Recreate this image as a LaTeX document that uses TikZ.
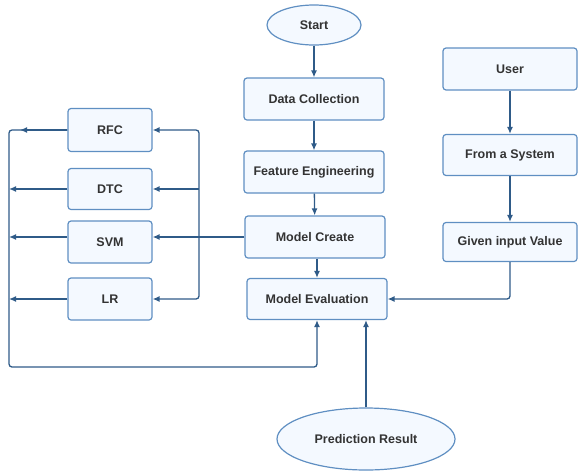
\documentclass[tikz,border=0pt]{standalone}
\usepackage{fontspec}
\setmainfont{Liberation Sans}
\usepackage{xcolor}
\usetikzlibrary{arrows.meta, shapes.geometric}

\definecolor{boxline}{HTML}{5F8FC2}
\definecolor{boxfill}{HTML}{F4F9FF}
\definecolor{linkcol}{HTML}{2F5B88}
\definecolor{txtcol}{HTML}{333333}

\tikzset{
  stepbox/.style={draw=boxline, fill=boxfill, line width=1.2pt, rounded corners=3pt,
    text=txtcol, font=\bfseries\fontsize{12.5}{14}\selectfont, inner sep=0pt},
  oval/.style={ellipse, draw=boxline, fill=boxfill, line width=1.2pt,
    text=txtcol, font=\bfseries\fontsize{12.5}{14}\selectfont, inner sep=0pt},
  link/.style={draw=linkcol, line width=1.3pt, -{Latex[length=7pt,width=6pt]}},
  wire/.style={draw=linkcol, line width=1.3pt, rounded corners=3pt},
}

\begin{document}
\begin{tikzpicture}[x=1pt, y=-1pt]
  \useasboundingbox (0,0) rectangle (578,472);
  % Main column
  \node[oval, minimum width=94pt, minimum height=40pt] (start) at (314,25) {Start};
  \node[stepbox, minimum width=140pt, minimum height=42pt] (dc) at (314,99) {Data Collection};
  \node[stepbox, minimum width=140pt, minimum height=42pt] (fe) at (314,172) {Feature Engineering};
  \node[stepbox, minimum width=140pt, minimum height=42pt] (mc) at (315,237) {Model Create};
  \node[stepbox, minimum width=140pt, minimum height=41pt] (me) at (317,299) {Model Evaluation};
  \node[oval, minimum width=178pt, minimum height=62pt] (pred) at (366,439) {Prediction Result};
  % Right column
  \node[stepbox, minimum width=134pt, minimum height=42pt] (user) at (510,69) {User};
  \node[stepbox, minimum width=134pt, minimum height=41pt] (sys) at (510,155) {From a System};
  \node[stepbox, minimum width=134pt, minimum height=39pt] (given) at (510,242) {Given input Value};
  % Classifiers
  \node[stepbox, minimum width=84pt, minimum height=43pt] (rfc) at (110,130) {RFC};
  \node[stepbox, minimum width=84pt, minimum height=41pt] (dtc) at (110,189) {DTC};
  \node[stepbox, minimum width=84pt, minimum height=42pt] (svm) at (110,242) {SVM};
  \node[stepbox, minimum width=84pt, minimum height=42pt] (lr) at (110,299) {LR};
  \coordinate (bus) at (199,237);
  \coordinate (lft) at (9,130);
  \coordinate (bot) at (9,367);

  % Flow
  \draw[link] (start) -- (dc);
  \draw[link] (dc) -- (fe);
  \draw[link] (fe) -- (mc);
  \draw[link] (mc.south -| me.south) -- (me);
  \draw[link] (user) -- (sys);
  \draw[link] (sys) -- (given);
  \draw[link, rounded corners=3pt] (given.south) |- (me.east);
  \draw[link] (pred.north) -- (pred.north |- me.south);

  % To the classifiers
  \draw[link] (mc.west) -- (mc.west -| svm.east);
  \draw[link, rounded corners=3pt] (bus) |- (rfc.east);
  \draw[link] (bus |- dtc.east) -- (dtc.east);
  \draw[link, rounded corners=3pt] (bus) |- (lr.east);

  % Back to evaluation
  \draw[wire, -{Latex[length=7pt,width=6pt]}] (rfc.west) -- (lft) -- (bot) -| (me.south);
  \draw[link] (rfc.west) -- (20,130);
  \draw[link] (dtc.west) -- (dtc.west -| lft);
  \draw[link] (svm.west |- mc.west) -- (mc.west -| lft);
  \draw[link] (lr.west) -- (lr.west -| lft);
\end{tikzpicture}
\end{document}
